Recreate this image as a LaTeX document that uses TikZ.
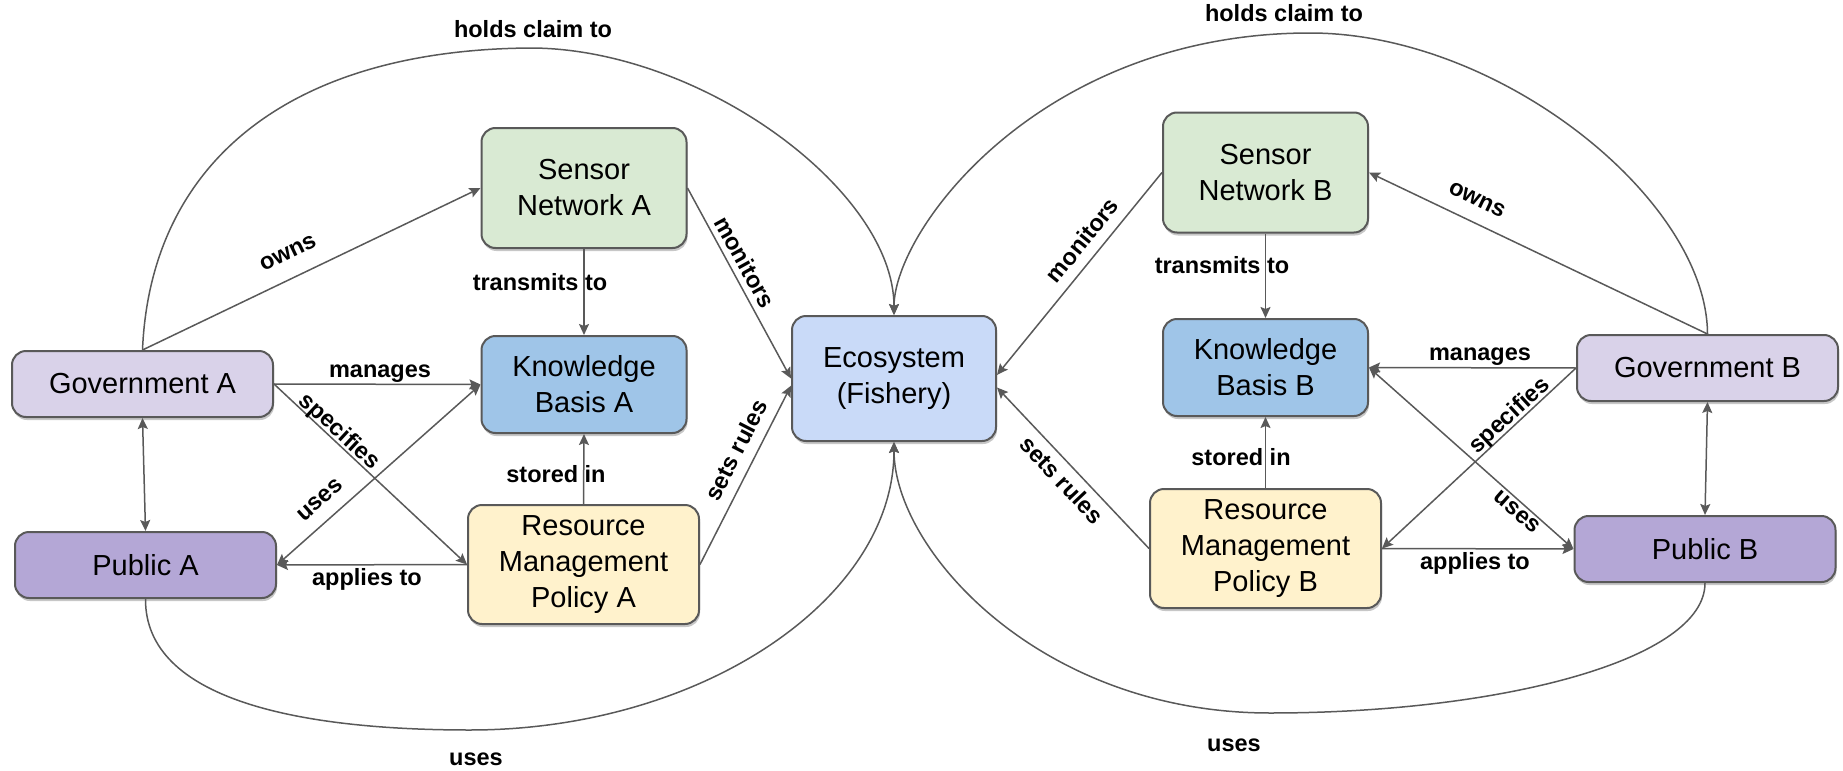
\documentclass[tikz,border=0pt]{standalone}
\usepackage{fontspec}
\setmainfont{Liberation Sans}
\usetikzlibrary{arrows.meta,shadows}
\definecolor{edgec}{HTML}{595959}
\definecolor{govc}{HTML}{D9D2E9}
\definecolor{pubc}{HTML}{B4A7D6}
\definecolor{senc}{HTML}{D9EAD3}
\definecolor{kbc}{HTML}{9FC5E8}
\definecolor{rmpc}{HTML}{FFF2CC}
\definecolor{ecoc}{HTML}{C9DAF8}
\begin{document}
\begin{tikzpicture}[x=0.5pt,y=-0.5pt,
  box/.style={draw=edgec, line width=1pt, rounded corners=7pt, align=center,
    font=\fontsize{14.5}{18}\selectfont, inner sep=0pt,
    drop shadow={shadow xshift=0.5pt, shadow yshift=-1.5pt, fill=black, opacity=0.22}},
  govbox/.style={box, minimum width=130.5pt, minimum height=33pt},
  senbox/.style={box, fill=senc, minimum width=102.5pt, minimum height=60pt},
  kbbox/.style={box, fill=kbc, minimum width=102.5pt, minimum height=48.5pt},
  rmpbox/.style={box, fill=rmpc, minimum width=115.5pt, minimum height=59.5pt},
  arr/.style={draw=edgec, line width=0.75pt, -{Stealth[length=5.5pt,width=5pt,inset=1pt]}},
  darr/.style={draw=edgec, line width=0.75pt, {Stealth[length=5.5pt,width=5pt,inset=1pt]}-{Stealth[length=5.5pt,width=5pt,inset=1pt]}},
  lbl/.style={font=\fontsize{11.75}{14}\selectfont\bfseries, inner sep=0pt}
]
\useasboundingbox (0,0) rectangle (1843,771);

% nodes
\node[govbox, fill=govc] (GovA) at (142.5,384) {Government A};
\node[govbox, fill=pubc] (PubA) at (145.5,565) {Public A};
\node[senbox] (SenA) at (584,188) {Sensor\\Network A};
\node[kbbox] (KBA) at (584,384.5) {Knowledge\\Basis A};
\node[rmpbox] (RMPA) at (583.5,564.5) {Resource\\Management\\Policy A};
\node[box, fill=ecoc, minimum width=102pt, minimum height=62.5pt] (Eco) at (894,378.5) {Ecosystem\\(Fishery)};
\node[senbox] (SenB) at (1265.5,172.5) {Sensor\\Network B};
\node[kbbox] (KBB) at (1265.5,367.5) {Knowledge\\Basis B};
\node[rmpbox] (RMPB) at (1265.5,548.5) {Resource\\Management\\Policy B};
\node[govbox, fill=govc] (GovB) at (1707.5,368) {Government B};
\node[govbox, fill=pubc] (PubB) at (1705,549) {Public B};

% curve apexes
\coordinate (pkA) at (530,48);
\coordinate (pkB) at (1310,33);
\coordinate (pkC) at (470,730);
\coordinate (pkD) at (1270,713);

% big arcs
\draw[arr] (GovA.north) .. controls (150,170) and (280,50) .. (pkA)
  .. controls (700,48) and (894,190) .. (Eco.north);
\draw[arr] (GovB.north) .. controls (1707,200) and (1500,33) .. (pkB)
  .. controls (1040,33) and (894,230) .. (Eco.north);
\draw[arr] (PubA.south) .. controls (145,700) and (300,730) .. (pkC)
  .. controls (700,730) and (894,600) .. (Eco.south);
\draw[arr] (PubB.south) .. controls (1705,660) and (1500,713) .. (pkD)
  .. controls (1040,713) and (894,550) .. (Eco.south);

% side A connectors
\draw[arr] (GovA.north) -- (SenA.west);
\draw[arr] (GovA.east) -- (KBA.west);
\draw[arr] (GovA.east) -- (RMPA.west);
\draw[darr] (PubA.east) -- (KBA.west);
\draw[arr] (RMPA.west) -- (PubA.east);
\draw[darr] (GovA.south) -- (PubA.north);
\draw[arr] (SenA.south) -- (KBA.north);
\draw[arr] (RMPA.north) -- (KBA.south);
\draw[arr] (SenA.east) -- (Eco.west);
\draw[arr] (RMPA.east) -- (Eco.184);

% side B connectors
\draw[arr] (GovB.north) -- (SenB.east);
\draw[arr] (GovB.west) -- (KBB.east);
\draw[arr] (GovB.west) -- (RMPB.east);
\draw[darr] (KBB.east) -- (PubB.west);
\draw[arr] (RMPB.east) -- (PubB.west);
\draw[darr] (GovB.south) -- (PubB.north);
\draw[arr] (SenB.south) -- (KBB.north);
\draw[arr] (RMPB.north) -- (KBB.south);
\draw[arr] (SenB.west) -- (Eco.2);
\draw[arr] (RMPB.west) -- (Eco.355);

% labels
\node[lbl, anchor=base] (lhA) at (533,37) {holds claim to};
\node[lbl, anchor=base] (lhB) at (1284,21) {holds claim to};
\node[lbl, anchor=base] (luA) at (476,765) {uses};
\node[lbl, anchor=base] (luB) at (1234,751) {uses};
\node[lbl, rotate=25.7] (loA) at (288,253) {owns};
\node[lbl, anchor=base] (lmA) at (380,377) {manages};
\node[lbl, rotate=-42.7] (lsA) at (339,432) {specifies};
\node[lbl, rotate=41.6] (lusA) at (320,500) {uses};
\node[lbl, anchor=base] (laA) at (367,585) {applies to};
\node[lbl, anchor=base] (ltA) at (540,290) {transmits to};
\node[lbl, anchor=base] (lstA) at (556,482) {stored in};
\node[lbl, rotate=-61] (lmoA) at (745,262) {monitors};
\node[lbl, rotate=62.8] (lsrA) at (736,450) {sets rules};
\node[lbl, rotate=-25.6] (loB) at (1477,200) {owns};
\node[lbl, anchor=base] (lmB) at (1480,360) {manages};
\node[lbl, rotate=42.6] (lsB) at (1510,416) {specifies};
\node[lbl, rotate=-41.3] (lusB) at (1517,512) {uses};
\node[lbl, anchor=base] (laB) at (1475,569) {applies to};
\node[lbl, anchor=base] (ltB) at (1222,273) {transmits to};
\node[lbl, anchor=base] (lstB) at (1241,465) {stored in};
\node[lbl, rotate=51] (lmoB) at (1082,240) {monitors};
\node[lbl, rotate=-46.7] (lsrB) at (1062,480) {sets rules};
\end{tikzpicture}
\end{document}
